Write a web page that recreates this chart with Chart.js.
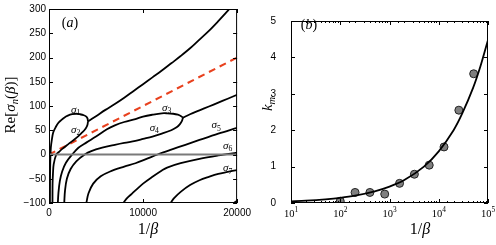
<!DOCTYPE html>
<html>
<head>
<meta charset="utf-8">
<script src="https://cdn.jsdelivr.net/npm/chart.js@4.4.1/dist/chart.umd.min.js"></script>
<style>
  body { margin: 0; background: #fff; width: 496px; height: 245px; position: relative; overflow: hidden; }
  canvas { position: absolute; top: 0; }
  #chartA { left: 0; }
  #chartB { left: 255px; }
</style>
</head>
<body>
<canvas id="chartA" width="255" height="245"></canvas>
<canvas id="chartB" width="241" height="245"></canvas>
<script>
// ---- panel (a): Re[sigma_n] vs 1/beta ----
const sigma1 = [[100,-100],[110,-50],[130,-20],[160,0],[200,15],[300,30],[440,45],[700,56],[943,64],[1300,71],[1616,76],[2000,80],[2460,83],[2900,84],[3300,83],[3700,81],[3970,78],[4100,74],[4140,68]]
const sigma2 = [[370,-100],[380,-60],[420,-40],[500,-20],[775,0],[1100,6],[1446,12],[1900,19],[2290,25],[2700,31],[3130,38],[3500,45],[3800,51],[4000,57],[4100,62],[4140,68]]
const sigma12 = [[4140,68],[5000,79],[6000,92],[7000,104],[8000,117],[9000,131],[10000,145],[11000,159],[12000,173],[13000,188],[14000,203],[15000,219],[16000,237],[17000,255],[18000,275],[19000,296],[20000,318]]
const sigma3 = [[940,-100],[1000,-80],[1150,-55],[1400,-35],[1800,-17],[2460,0],[3130,14],[4000,25],[5000,37],[6160,52],[7000,60],[8000,67],[9190,73],[10000,78],[11000,82],[12000,85],[12560,85],[13200,84],[13700,82],[14050,79],[14240,76]]
const sigma34 = [[14240,76],[15000,83],[16000,91],[17000,99],[18000,107],[19000,115],[20000,123]]
const sigma4 = [[1620,-100],[1700,-75],[1900,-50],[2300,-30],[2900,-14],[3800,0],[4500,7],[5660,14],[7000,20],[8000,24],[9190,28],[10000,32],[11000,37],[12000,43],[13000,50],[13570,56],[13900,62],[14150,70],[14240,76]]
const sigma5 = [[3970,-100],[4200,-80],[4700,-60],[5500,-45],[6500,-35],[8000,-25],[9190,-18],[10500,-8],[11550,0],[13000,10],[14500,20],[16000,30],[18000,43],[20000,55]]
const sigma6 = [[7900,-100],[8300,-90],[8800,-81],[9190,-74],[10000,-60],[11000,-46],[12000,-33],[12560,-27],[14000,-18],[16000,-9],[18000,-2],[20000,4]]
const sigma7 = [[12930,-100],[13300,-90],[14000,-77],[15000,-63],[16000,-53],[17000,-46],[18000,-40],[19000,-36],[20000,-32]]
const sigma8 = [[19630,-100],[19800,-98],[20000,-95]]
const dashedLine = [[0,0],[20000,200]]
const zeroLine = [[0,0],[20000,0]]
const sigmaSubs = ['1','2','3','4','5','6','7']
const sigmaLabelPos = [[2830,92],[2830,51],[12520,96],[11200,55],[17780,60],[19000,17],[19000,-29]]

// ---- panel (b): k_m vs 1/beta ----
const kmBeta = [100,200,400,800,1600,3200,6400,12800,25600,51200]
const kmMeasured = [0.05,0.29,0.29,0.245,0.54,0.79,1.04,1.54,2.55,3.55]
const fitBeta = [10,20,50,100,200,500,1000,2000,5000,10000,20000,30000,50000,70000,100000]
const fitKm = [0.045,0.063,0.1,0.14,0.2,0.32,0.45,0.63,1.0,1.42,2.0,2.46,3.17,3.75,4.48]

const tickFont = { family: 'Liberation Sans', size: 10 }
const serif = 'Liberation Serif'

const pts = arr => arr.map(p => ({ x: p[0], y: p[1] }))
const curve = (arr, extra) => Object.assign({
  data: pts(arr), showLine: true, borderColor: '#000', borderWidth: 1.8,
  pointRadius: 0, tension: 0.35, fill: false
}, extra || {})

// draw text made of parts, some of them sub- or superscript, centred on (0,0)
function richText(ctx, parts, size, italic) {
  const widths = parts.map(p => {
    const s = p.sub || p.sup ? size * 0.7 : size
    ctx.font = ((p.italic ?? italic) ? 'italic ' : '') + s + 'px ' + (p.family || serif)
    return ctx.measureText(p.t).width
  })
  let x = -widths.reduce((a, b) => a + b, 0) / 2
  parts.forEach((p, i) => {
    const s = p.sub || p.sup ? size * 0.7 : size
    ctx.font = ((p.italic ?? italic) ? 'italic ' : '') + s + 'px ' + (p.family || serif)
    const dy = p.sub ? size * 0.28 : p.sup ? -size * 0.38 : 0
    ctx.textAlign = 'left'
    ctx.fillText(p.t, x, dy)
    x += widths[i]
  })
}

// box, inward tick marks and free text
const framePlugin = {
  id: 'framePlugin',
  afterDraw(chart, args, opts) {
    const { ctx, chartArea: a, scales } = chart
    ctx.save()
    ctx.strokeStyle = '#000'
    ctx.lineWidth = 1
    ctx.strokeRect(a.left + 0.5, a.top + 0.5, a.width - 1, a.height - 1)
    scales.x.ticks.forEach(t => {
      const p = Math.round(scales.x.getPixelForValue(t.value)) + 0.5
      const len = (opts.isMajorX ? opts.isMajorX(t.value) : true) ? 4 : 2
      ctx.beginPath()
      ctx.moveTo(p, a.bottom); ctx.lineTo(p, a.bottom - len)
      ctx.moveTo(p, a.top); ctx.lineTo(p, a.top + len)
      ctx.stroke()
    })
    scales.y.ticks.forEach(t => {
      const p = Math.round(scales.y.getPixelForValue(t.value)) + 0.5
      ctx.beginPath()
      ctx.moveTo(a.left, p); ctx.lineTo(a.left + 4, p)
      ctx.moveTo(a.right, p); ctx.lineTo(a.right - 4, p)
      ctx.stroke()
    })
    ctx.fillStyle = '#000'
    ctx.textBaseline = 'middle'
    ;(opts.texts || []).forEach(t => {
      ctx.save()
      let x = t.x, y = t.y
      if (t.data) {
        x = scales.x.getPixelForValue(t.data[0])
        y = scales.y.getPixelForValue(t.data[1])
      }
      ctx.translate(x, y)
      if (t.rotate) ctx.rotate(t.rotate)
      richText(ctx, t.parts, t.size, t.italic)
      ctx.restore()
    })
    if (opts.powerTicks) {
      scales.x.ticks.forEach(t => {
        if (!opts.isMajorX(t.value)) return
        ctx.save()
        ctx.translate(scales.x.getPixelForValue(t.value), a.bottom + 11)
        richText(ctx, [{ t: '10' }, { t: String(Math.round(Math.log10(t.value))), sup: true }], 10.5, false)
        ctx.restore()
      })
    }
    ctx.restore()
  }
}

const labelTexts = sigmaSubs.map((s, i) => ({
  parts: [{ t: 'σ' }, { t: s, sub: true, italic: false }],
  data: sigmaLabelPos[i], size: 11, italic: true
}))

new Chart(document.getElementById('chartA'), {
  type: 'scatter',
  data: {
    datasets: [
      curve(zeroLine, { borderColor: '#7a7a7a', borderWidth: 2, tension: 0 }),
      curve(sigma1), curve(sigma2), curve(sigma12),
      curve(sigma3), curve(sigma4), curve(sigma34),
      curve(sigma5), curve(sigma6), curve(sigma7), curve(sigma8),
      curve(dashedLine, { borderColor: '#e8411e', borderWidth: 2, borderDash: [7, 5], tension: 0 })
    ]
  },
  options: {
    responsive: false,
    animation: false,
    layout: { padding: { top: 5, right: 8, left: 0, bottom: 0 } },
    plugins: {
      legend: { display: false },
      tooltip: { enabled: false },
      framePlugin: {
        texts: [
          { parts: [{ t: '(' , italic: false }, { t: 'a' }, { t: ')', italic: false }], x: 70, y: 23, size: 14, italic: true },
          { parts: [{ t: '1/' }, { t: 'β', italic: true }], x: 148, y: 230, size: 16 },
          { parts: [{ t: 'Re[' }, { t: 'σ', italic: true }, { t: 'n', sub: true, italic: true }, { t: '(' }, { t: 'β', italic: true }, { t: ')]' }], x: 11, y: 105, rotate: -Math.PI / 2, size: 15 }
        ].concat(labelTexts)
      }
    },
    scales: {
      x: {
        type: 'linear', min: 0, max: 20000,
        grid: { display: false, drawTicks: false },
        border: { display: false },
        ticks: { stepSize: 10000, font: tickFont, color: '#000', padding: 4, maxRotation: 0, callback: v => String(v) },
        afterFit: s => { s.height = 42 }
      },
      y: {
        min: -100, max: 300,
        grid: { display: false, drawTicks: false },
        border: { display: false },
        ticks: {
          stepSize: 50, font: tickFont, color: '#000', padding: 3,
          callback: v => v < 0 ? '\u2212' + (-v) : String(v)
        },
        afterFit: s => { s.width = 49 }
      }
    }
  },
  plugins: [framePlugin]
})

const isPow10 = v => Math.abs(Math.log10(v) - Math.round(Math.log10(v))) < 1e-6

new Chart(document.getElementById('chartB'), {
  type: 'scatter',
  data: {
    datasets: [
      { data: fitBeta.map((b, i) => ({ x: b, y: fitKm[i] })), showLine: true, borderColor: '#000', borderWidth: 1.8, pointRadius: 0, tension: 0.3 },
      { data: kmBeta.map((b, i) => ({ x: b, y: kmMeasured[i] })), showLine: false, pointRadius: 4, backgroundColor: '#7f7f7f', borderColor: '#222', borderWidth: 1 }
    ]
  },
  options: {
    responsive: false,
    animation: false,
    layout: { padding: { top: 6, right: 8, left: 0, bottom: 0 } },
    plugins: {
      legend: { display: false },
      tooltip: { enabled: false },
      framePlugin: {
        isMajorX: isPow10,
        powerTicks: true,
        texts: [
          { parts: [{ t: '(' , italic: false }, { t: 'b' }, { t: ')', italic: false }], x: 54, y: 25, size: 14, italic: true },
          { parts: [{ t: '1/' }, { t: 'β', italic: true }], x: 165, y: 230, size: 16 },
          { parts: [{ t: 'k' }, { t: 'm', sub: true }], x: 13, y: 104, rotate: -Math.PI / 2, size: 15, italic: true }
        ]
      }
    },
    scales: {
      x: {
        type: 'logarithmic', min: 10, max: 100000,
        grid: { display: false, drawTicks: false },
        border: { display: false },
        ticks: { font: tickFont, color: '#000', padding: 4, maxRotation: 0, autoSkip: false, callback: () => '' },
        afterFit: s => { s.height = 42 }
      },
      y: {
        min: 0, max: 5,
        grid: { display: false, drawTicks: false },
        border: { display: false },
        ticks: { stepSize: 1, font: tickFont, color: '#000', padding: 15 },
        afterFit: s => { s.width = 36 }
      }
    }
  },
  plugins: [framePlugin]
})
</script>
</body>
</html>
